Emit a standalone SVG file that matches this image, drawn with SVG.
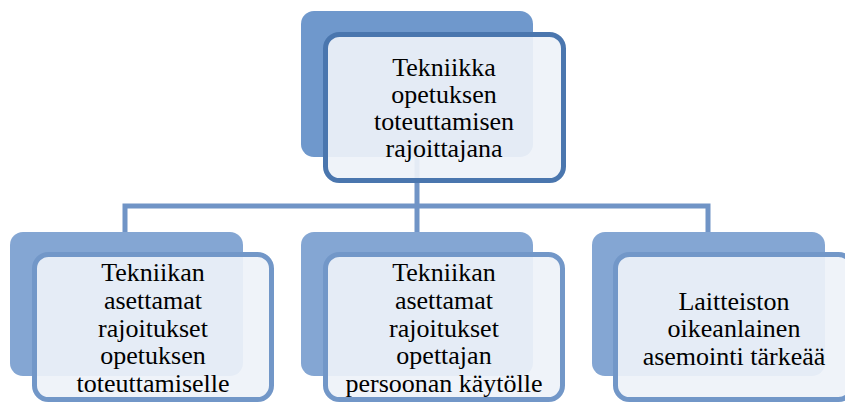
<svg xmlns="http://www.w3.org/2000/svg" width="845" height="403" viewBox="0 0 845 403">
  <style>
    .back-top { fill: #6f98cc; }
    .back { fill: #84a6d3; }
    .front-top { fill: #eef2f8; fill-opacity: 0.92; stroke: #4a76ae; stroke-width: 5; }
    .front { fill: #eef2f8; fill-opacity: 0.92; stroke: #7297c8; stroke-width: 5; }
    .link { fill: none; stroke: #7094c6; stroke-width: 5; }
    .label { font-family: "Liberation Serif", "Times New Roman", serif; font-size: 26px; fill: #000000; text-anchor: middle; }
  </style>
  <rect width="845" height="403" fill="#ffffff"/>

  <!-- connectors -->
  <g id="connectors">
    <path class="link" d="M417 157 V206 M125 232 V206 H708 V232 M417 206 V232"/>
  </g>

  <!-- root -->
  <g id="root">
    <rect class="back-top" x="301" y="11" width="232" height="146" rx="13"/>
    <rect class="front-top" x="325.5" y="34.5" width="238" height="146" rx="14"/>
    <text class="label" x="444" y="76">Tekniikka</text>
    <text class="label" x="444" y="103">opetuksen</text>
    <text class="label" x="444" y="130">toteuttamisen</text>
    <text class="label" x="444" y="157">rajoittajana</text>
  </g>

  <!-- child 1 -->
  <g id="child1">
    <rect class="back" x="10" y="232" width="233" height="144" rx="13"/>
    <rect class="front" x="34.5" y="254.5" width="237" height="145" rx="14"/>
    <text class="label" x="153" y="281">Tekniikan</text>
    <text class="label" x="153" y="309">asettamat</text>
    <text class="label" x="153" y="337">rajoitukset</text>
    <text class="label" x="153" y="364">opetuksen</text>
    <text class="label" x="153" y="392">toteuttamiselle</text>
  </g>

  <!-- child 2 -->
  <g id="child2">
    <rect class="back" x="301" y="232" width="232" height="144" rx="13"/>
    <rect class="front" x="325.5" y="254.5" width="237" height="145" rx="14"/>
    <text class="label" x="444" y="281">Tekniikan</text>
    <text class="label" x="444" y="309">asettamat</text>
    <text class="label" x="444" y="337">rajoitukset</text>
    <text class="label" x="444" y="364">opettajan</text>
    <text class="label" x="444" y="392">persoonan käytölle</text>
  </g>

  <!-- child 3 -->
  <g id="child3">
    <rect class="back" x="592" y="232" width="233" height="144" rx="13"/>
    <rect class="front" x="615.5" y="254.5" width="237" height="145" rx="14"/>
    <text class="label" x="734" y="310">Laitteiston</text>
    <text class="label" x="734" y="337">oikeanlainen</text>
    <text class="label" x="734" y="365">asemointi tärkeää</text>
  </g>
</svg>
